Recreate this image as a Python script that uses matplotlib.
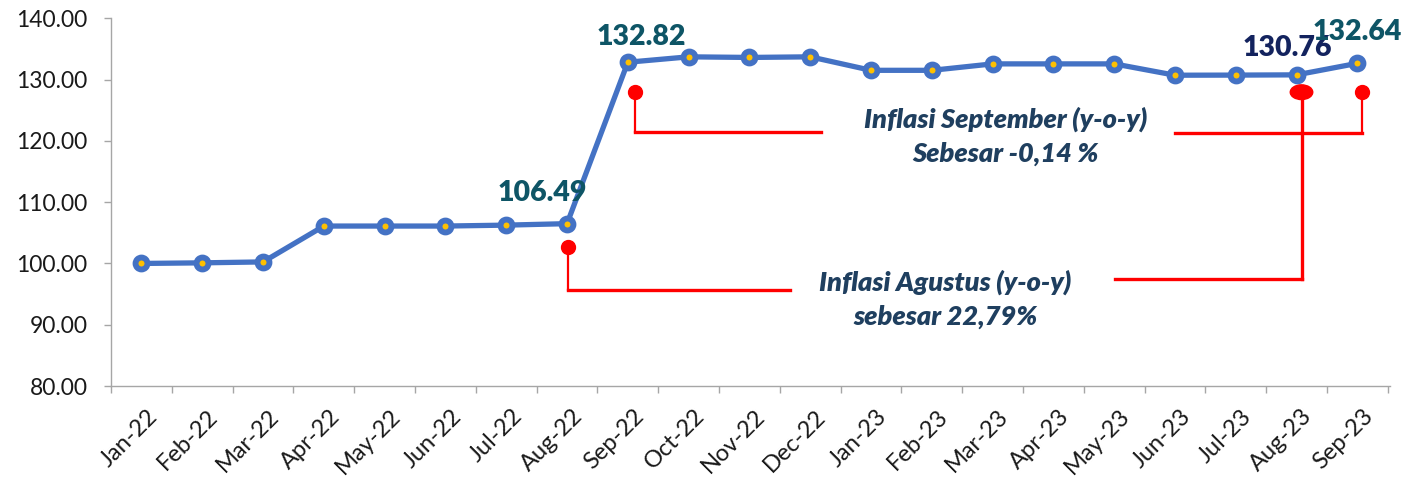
import matplotlib.pyplot as plt
import matplotlib.transforms as mtransforms
from matplotlib.patches import Ellipse

plt.rcParams["font.family"] = ["Lato", "DejaVu Sans"]

# ====================== 数据 ======================
bulan = ["Jan-22", "Feb-22", "Mar-22", "Apr-22", "May-22", "Jun-22", "Jul-22",
         "Aug-22", "Sep-22", "Oct-22", "Nov-22", "Dec-22", "Jan-23", "Feb-23",
         "Mar-23", "Apr-23", "May-23", "Jun-23", "Jul-23", "Aug-23", "Sep-23"]
indeks = [100.00, 100.10, 100.25, 106.10, 106.10, 106.10, 106.25,
          106.49, 132.82, 133.70, 133.60, 133.70, 131.50, 131.50,
          132.55, 132.55, 132.55, 130.70, 130.72, 130.76, 132.64]

# label angka yang ditampilkan: (indeks bulan, warna)
label_titik = {7: "#0E5566", 8: "#0E5566", 19: "#13235E", 20: "#0E5566"}

teks_sep = "Inflasi September (y-o-y)\nSebesar -0,14 %"
teks_agu = "Inflasi Agustus (y-o-y)\nsebesar 22,79%"

x = list(range(len(bulan)))

fig = plt.figure(figsize=(14.02, 4.79), dpi=100)
ax = fig.add_axes([0.0792, 0.194, 0.912, 0.768])

ax.plot(x, indeks, color="#4472C4", linewidth=3.8, marker="o",
        markersize=8.6, markerfacecolor="#FFC000", markeredgecolor="#4472C4",
        markeredgewidth=4.2, zorder=3)

# label nilai
offset = {7: (-18, 13), 8: (10, 9), 19: (-7, 10), 20: (0, 13)}
for i, warna in label_titik.items():
    ax.annotate(f"{indeks[i]:.2f}", (x[i], indeks[i]), xytext=offset[i],
                textcoords="offset points", ha="center", va="bottom",
                fontsize=20.5, fontweight="heavy", color=warna, zorder=5)

# ====================== anotasi merah ======================
merah = "#FF0000"
# Agustus 2022 -> teks Agustus
ax.plot([x[7] + 0.02], [indeks[7] - 3.8], "o", color=merah, ms=10, zorder=4)
ax.plot([x[7] + 0.02, x[7] + 0.02], [indeks[7] - 3.8, 95.65], color=merah, lw=1.6)
ax.plot([x[7] + 0.02, 10.67], [95.65, 95.65], color=merah, lw=2.4)
# September 2022 -> teks September
ax.plot([x[8] + 0.12], [127.93], "o", color=merah, ms=10, zorder=4)
ax.plot([x[8] + 0.12, x[8] + 0.12], [127.93, 121.4], color=merah, lw=1.6)
ax.plot([x[8] + 0.12, 11.17], [121.4, 121.4], color=merah, lw=2.4)
# Agustus 2023
ax.add_patch(Ellipse((x[19] + 0.08, 127.93), 0.37, 2.4, color=merah, zorder=4))
ax.plot([x[19] + 0.08, x[19] + 0.08], [127.93, 97.44], color=merah, lw=2.4)
ax.plot([16.02, x[19] + 0.08], [97.44, 97.44], color=merah, lw=2.4)
# September 2023
ax.plot([x[20] + 0.07], [127.93], "o", color=merah, ms=10, zorder=4)
ax.plot([x[20] + 0.07, x[20] + 0.07], [127.93, 121.25], color=merah, lw=1.6)
ax.plot([17.0, x[20] + 0.07], [121.25, 121.25], color=merah, lw=2.4)

ax.text(14.21, 120.7, teks_sep, ha="center", va="center", fontsize=19.5,
        fontweight="heavy", fontstyle="italic", color="#1F3F5F", linespacing=1.5)
ax.text(13.22, 94.2, teks_agu, ha="center", va="center", fontsize=19.5,
        fontweight="heavy", fontstyle="italic", color="#1F3F5F", linespacing=1.5)

# ====================== sumbu ======================
ax.set_xlim(-0.47, len(bulan) - 0.47)
ax.set_ylim(80, 140)
ax.set_yticks(range(80, 141, 10))
ax.set_yticklabels([f"{v:.2f}" for v in range(80, 141, 10)])
ax.set_xticks(x)
ax.set_xticklabels(bulan, rotation=45, ha="right", rotation_mode="anchor")
ax.set_xticks([i - 0.5 for i in range(len(bulan) + 1)], minor=True)
ax.tick_params(axis="x", which="major", length=0, labelsize=17, pad=14,
               labelcolor="#1A1A1A")
ax.tick_params(axis="x", which="minor", length=5, color="#A6A6A6", width=1)
ax.tick_params(axis="y", length=5, color="#A6A6A6", width=1, labelsize=16.5,
               pad=12, labelcolor="#1A1A1A")

geser = mtransforms.ScaledTranslation(5 / 100, 0, fig.dpi_scale_trans)
for lbl in ax.get_xticklabels():
    lbl.set_transform(lbl.get_transform() + geser)

for s in ["top", "right"]:
    ax.spines[s].set_visible(False)
for s in ["left", "bottom"]:
    ax.spines[s].set_color("#A6A6A6")
    ax.spines[s].set_linewidth(1)

fig.savefig("out.png", dpi=100)
